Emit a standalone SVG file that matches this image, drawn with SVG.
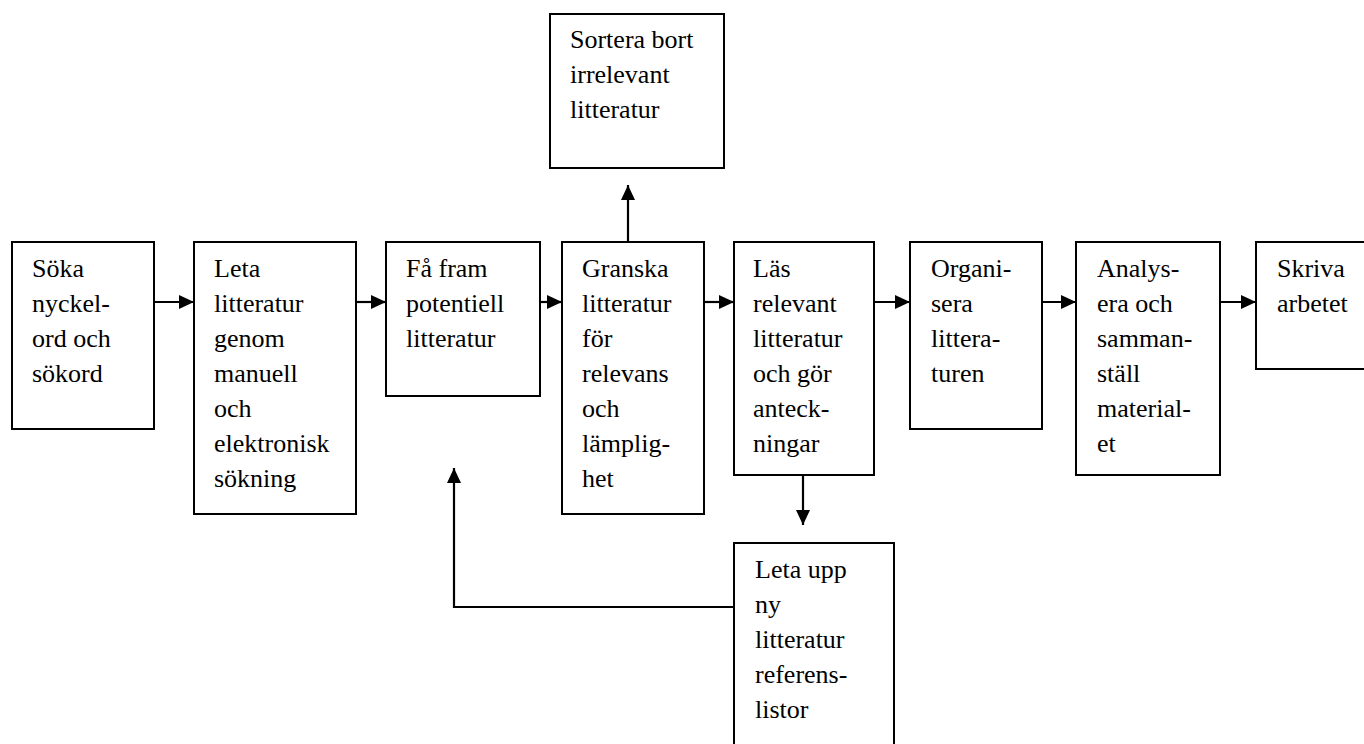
<svg xmlns="http://www.w3.org/2000/svg" width="1364" height="744" viewBox="0 0 1364 744">
<style>
.box{fill:#fff;stroke:#000;stroke-width:2}
.t{font-family:'Liberation Serif','Times New Roman',serif;font-size:26px;fill:#000}
.c{fill:none;stroke:#000;stroke-width:2.2}
</style>
<defs>
<marker id="ah" viewBox="0 0 15 14" refX="15" refY="7" markerWidth="15" markerHeight="14" markerUnits="userSpaceOnUse" orient="auto">
<path d="M0,0 L15,7 L0,14 Z" fill="#000"/>
</marker>
</defs>
<rect width="1364" height="744" fill="#fff"/>
<g id="connectors">
<line class="c" x1="154" y1="302" x2="194" y2="302" marker-end="url(#ah)"/>
<line class="c" x1="356" y1="302" x2="386" y2="302" marker-end="url(#ah)"/>
<line class="c" x1="540" y1="302" x2="562" y2="302" marker-end="url(#ah)"/>
<line class="c" x1="704" y1="302" x2="734" y2="302" marker-end="url(#ah)"/>
<line class="c" x1="874" y1="302" x2="910" y2="302" marker-end="url(#ah)"/>
<line class="c" x1="1042" y1="302" x2="1076" y2="302" marker-end="url(#ah)"/>
<line class="c" x1="1220" y1="302" x2="1256" y2="302" marker-end="url(#ah)"/>
<line class="c" x1="628" y1="242" x2="628" y2="185" marker-end="url(#ah)"/>
<line class="c" x1="803" y1="475" x2="803" y2="525" marker-end="url(#ah)"/>
<polyline class="c" points="734,607 454,607 454,468" marker-end="url(#ah)"/>
</g>
<g id="n1"><rect class="box" x="12" y="242" width="142" height="187"/>
<text class="t" x="32" y="277">Söka</text><text class="t" x="32" y="312">nyckel-</text><text class="t" x="32" y="347">ord och</text><text class="t" x="32" y="382">sökord</text></g>
<g id="n2"><rect class="box" x="194" y="242" width="162" height="272"/>
<text class="t" x="214" y="277">Leta</text><text class="t" x="214" y="312">litteratur</text><text class="t" x="214" y="347">genom</text><text class="t" x="214" y="382">manuell</text><text class="t" x="214" y="417">och</text><text class="t" x="214" y="452">elektronisk</text><text class="t" x="214" y="487">sökning</text></g>
<g id="n3"><rect class="box" x="386" y="242" width="154" height="154"/>
<text class="t" x="406" y="277">Få fram</text><text class="t" x="406" y="312">potentiell</text><text class="t" x="406" y="347">litteratur</text></g>
<g id="n4"><rect class="box" x="562" y="242" width="142" height="272"/>
<text class="t" x="582" y="277">Granska</text><text class="t" x="582" y="312">litteratur</text><text class="t" x="582" y="347">för</text><text class="t" x="582" y="382">relevans</text><text class="t" x="582" y="417">och</text><text class="t" x="582" y="452">lämplig-</text><text class="t" x="582" y="487">het</text></g>
<g id="n5"><rect class="box" x="734" y="242" width="140" height="233"/>
<text class="t" x="753" y="277">Läs</text><text class="t" x="753" y="312">relevant</text><text class="t" x="753" y="347">litteratur</text><text class="t" x="753" y="382">och gör</text><text class="t" x="753" y="417">anteck-</text><text class="t" x="753" y="452">ningar</text></g>
<g id="n6"><rect class="box" x="910" y="242" width="132" height="187"/>
<text class="t" x="931" y="277">Organi-</text><text class="t" x="931" y="312">sera</text><text class="t" x="931" y="347">littera-</text><text class="t" x="931" y="382">turen</text></g>
<g id="n7"><rect class="box" x="1076" y="242" width="144" height="233"/>
<text class="t" x="1097" y="277">Analys-</text><text class="t" x="1097" y="312">era och</text><text class="t" x="1097" y="347">samman-</text><text class="t" x="1097" y="382">ställ</text><text class="t" x="1097" y="417">material-</text><text class="t" x="1097" y="452">et</text></g>
<g id="n8"><rect class="box" x="1256" y="242" width="130" height="127"/>
<text class="t" x="1277" y="277">Skriva</text><text class="t" x="1277" y="312">arbetet</text></g>
<g id="n9"><rect class="box" x="550" y="14" width="174" height="154"/>
<text class="t" x="570" y="48">Sortera bort</text><text class="t" x="570" y="83">irrelevant</text><text class="t" x="570" y="118">litteratur</text></g>
<g id="n10"><rect class="box" x="734" y="543" width="160" height="220"/>
<text class="t" x="755" y="578">Leta upp</text><text class="t" x="755" y="613">ny</text><text class="t" x="755" y="648">litteratur</text><text class="t" x="755" y="683">referens-</text><text class="t" x="755" y="718">listor</text></g>
</svg>
